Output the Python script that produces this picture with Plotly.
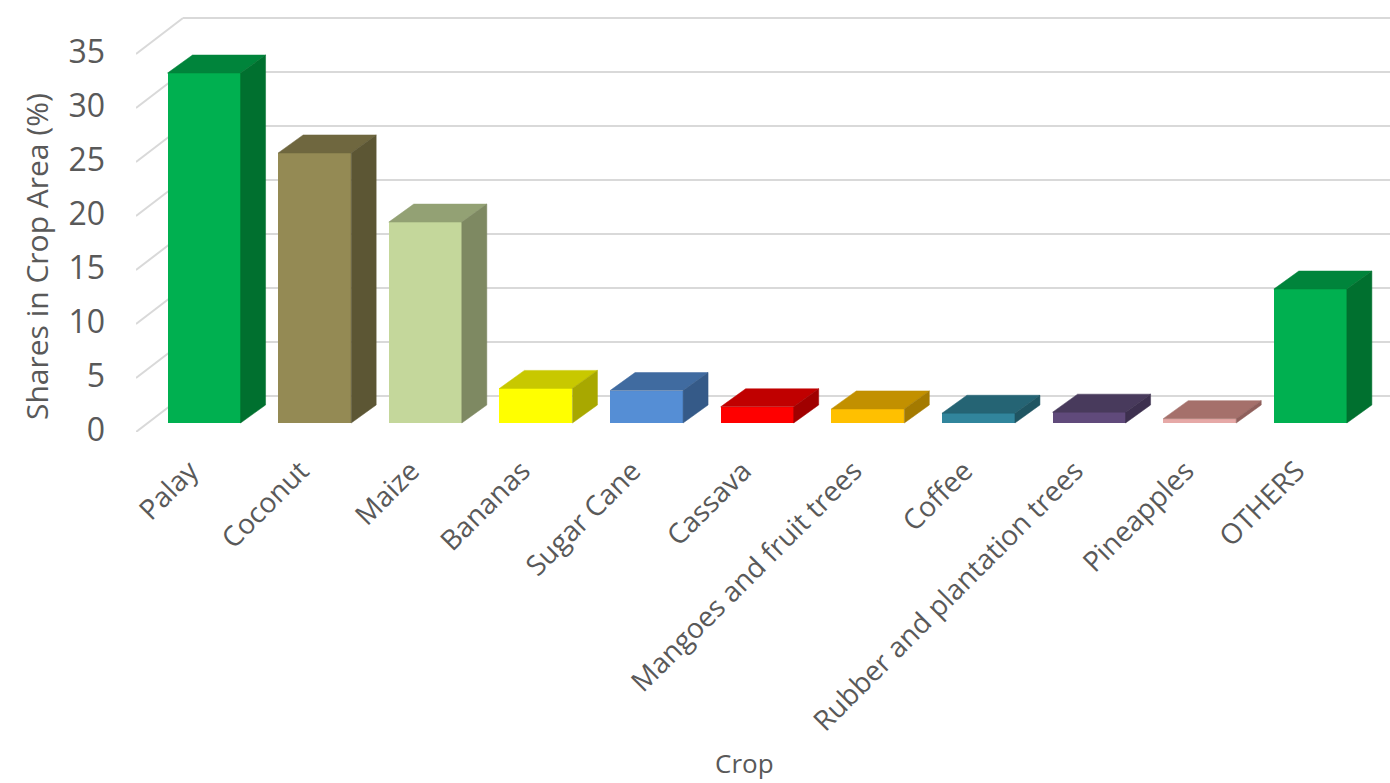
import plotly.graph_objects as go

# Crop shares (%) by crop
crops = ["Palay", "Coconut", "Maize", "Bananas", "Sugar Cane", "Cassava",
         "Mangoes and fruit trees", "Coffee", "Rubber and plantation trees",
         "Pineapples", "OTHERS"]
shares = [32.4, 25.0, 18.6, 3.2, 3.0, 1.5, 1.3, 0.9, 1.0, 0.4, 12.4]

# Face colours of each 3-D column: front, top, side
front_colors = ["#00B050", "#948A54", "#C4D79B", "#FFFF00", "#558ED5", "#FF0000",
                "#FFC000", "#31859C", "#604A7B", "#E6A9A7", "#00B050"]
top_colors = ["#00843B", "#6F673F", "#93A174", "#C8C800", "#406BA0", "#C00000",
              "#C29000", "#256474", "#483A5C", "#A5706B", "#00843B"]
side_colors = ["#00702F", "#5C5634", "#7E8962", "#A8A800", "#355A88", "#A00000",
               "#A47A00", "#1F5562", "#3D304F", "#8F5F5B", "#00702F"]

y_ticks = [0, 5, 10, 15, 20, 25, 30, 35]

# Oblique projection settings (data units)
BAR_W = 0.66          # width of a column's front face
BAR_DX, BAR_DY = 0.226, 1.67    # depth of a column
FLOOR_X, FLOOR_DY = -0.615, -0.833  # front-left corner of the floor
WALL_X, WALL_DY = -0.19, 2.5        # back wall position
X_MAX = 10.72

fig = go.Figure()

# Front faces
fig.add_trace(go.Bar(
    x=list(range(len(crops))), y=shares, width=BAR_W,
    marker=dict(color=front_colors, line=dict(width=0)),
    hoverinfo="skip", showlegend=False,
))

# Top and side faces
for i, v in enumerate(shares):
    xl, xr = i - BAR_W / 2, i + BAR_W / 2
    fig.add_trace(go.Scatter(
        x=[xl, xr, xr + BAR_DX, xl + BAR_DX, xl],
        y=[v, v, v + BAR_DY, v + BAR_DY, v],
        fill="toself", fillcolor=top_colors[i], mode="lines",
        line=dict(width=0.5, color=top_colors[i]),
        hoverinfo="skip", showlegend=False,
    ))
    fig.add_trace(go.Scatter(
        x=[xr, xr, xr + BAR_DX, xr + BAR_DX, xr],
        y=[0, v, v + BAR_DY, BAR_DY, 0],
        fill="toself", fillcolor=side_colors[i], mode="lines",
        line=dict(width=0.5, color=side_colors[i]),
        hoverinfo="skip", showlegend=False,
    ))

# Gridlines on the back wall and the left wall
shapes = []
grid_style = dict(color="#D9D9D9", width=2)
for t in y_ticks:
    shapes.append(dict(type="line", xref="x", yref="y", layer="below",
                       x0=WALL_X, y0=t + WALL_DY, x1=X_MAX, y1=t + WALL_DY,
                       line=grid_style))
    shapes.append(dict(type="line", xref="x", yref="y", layer="below",
                       x0=FLOOR_X, y0=t + FLOOR_DY, x1=WALL_X, y1=t + WALL_DY,
                       line=grid_style))

font_family = "Open Sans, Noto Sans, sans-serif"
label_color = "#595959"

fig.update_layout(
    width=1390, height=783,
    margin=dict(l=136, r=0, t=17, b=351, pad=0),
    paper_bgcolor="white", plot_bgcolor="white",
    shapes=shapes,
    bargap=0,
    xaxis=dict(
        range=[FLOOR_X, X_MAX],
        tickmode="array", tickvals=list(range(len(crops))), ticktext=crops,
        tickangle=-45, showgrid=False, zeroline=False, showline=False,
        ticks="", tickfont=dict(family=font_family, size=28, color=label_color),
        ticklabelstandoff=16, ticklabelshift=-14,
    ),
    yaxis=dict(
        range=[FLOOR_DY, 37.59],
        tickmode="array", tickvals=y_ticks,
        showgrid=False, zeroline=False, showline=False, ticks="",
        tickfont=dict(family=font_family, size=32, color=label_color),
        ticklabelstandoff=30, ticklabelshift=7,
    ),
    annotations=[
        dict(text="Shares in Crop Area (%)", xref="paper", yref="paper",
             x=-0.0789, y=0.4217, xanchor="center", yanchor="middle",
             textangle=-90, showarrow=False,
             font=dict(family=font_family, size=30, color=label_color)),
        dict(text="Crop", xref="paper", yref="paper",
             x=0.4856, y=-0.797, xanchor="center", yanchor="middle",
             showarrow=False,
             font=dict(family=font_family, size=26, color=label_color)),
    ],
)

fig.write_html("out.html")
